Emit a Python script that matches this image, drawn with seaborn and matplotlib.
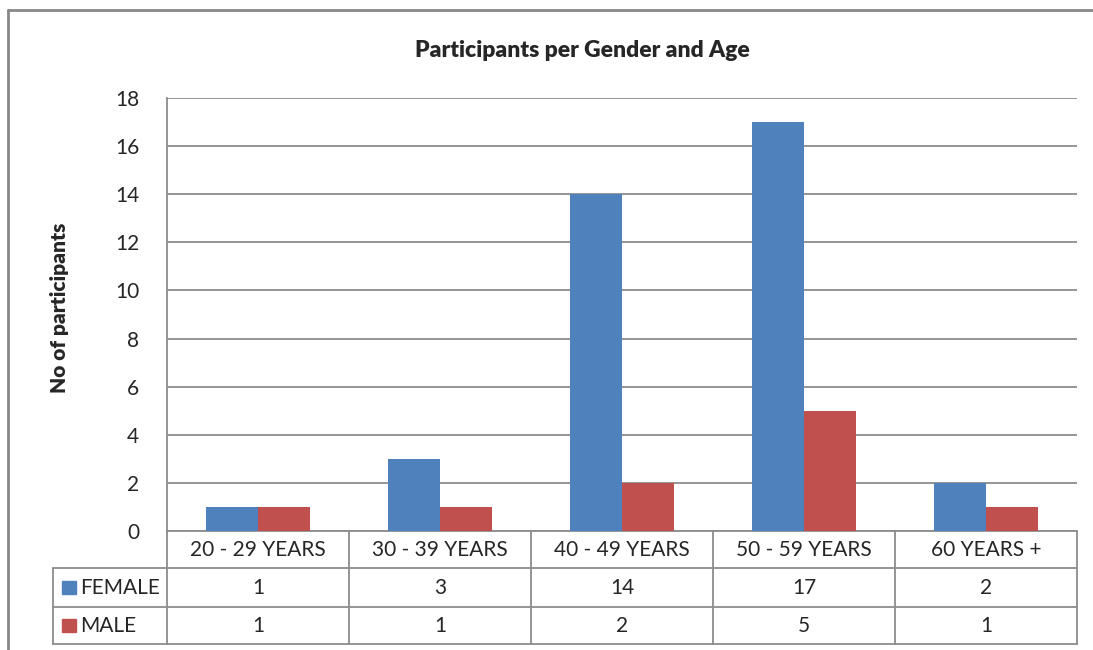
import pandas as pd
import seaborn as sns
import matplotlib.pyplot as plt
from matplotlib.lines import Line2D
from matplotlib.patches import Rectangle

# Data
age_groups = ['20 - 29 YEARS', '30 - 39 YEARS', '40 - 49 YEARS', '50 - 59 YEARS', '60 YEARS +']
female = [1, 3, 14, 17, 2]
male = [1, 1, 2, 5, 1]
series = ['FEMALE', 'MALE']
colors = {'FEMALE': '#4F81BD', 'MALE': '#C0504D'}

df = pd.DataFrame({'age': age_groups * 2,
                   'gender': ['FEMALE'] * len(female) + ['MALE'] * len(male),
                   'count': female + male})

sns.set_style('white')
plt.rcParams['font.family'] = ['Lato', 'DejaVu Sans']
grey = '#8c8c8c'
fs = 15

fig = plt.figure(figsize=(10.93, 6.5), dpi=100)
ax = fig.add_axes([167 / 1093, 1 - 531 / 650, 910 / 1093, 433 / 650])

sns.barplot(data=df, x='age', y='count', hue='gender', hue_order=series,
            palette=colors, width=0.571, gap=0, linewidth=0, saturation=1,
            legend=False, ax=ax, zorder=3)

ax.set_ylim(0, 18)
ax.set_yticks(range(0, 19, 2))
ax.set_xlim(-0.5, 4.5)
ax.set_xticks([])
ax.set_xlabel('')
ax.set_ylabel('')
ax.yaxis.grid(True, color=grey, linewidth=1.3, zorder=0)
ax.set_axisbelow(True)
for side in ['top', 'right', 'bottom']:
    ax.spines[side].set_visible(False)
ax.spines['left'].set_color(grey)
ax.spines['left'].set_linewidth(1.3)
ax.tick_params(axis='y', length=0, pad=20, labelsize=fs)

# Data table under the plot
tr = ax.get_xaxis_transform()
row_y = [0, -0.0855, -0.1755, -0.261]
left_x = -1.126
line_kw = dict(color=grey, linewidth=1.3, clip_on=False, transform=tr)
ax.plot([-0.5, 4.5], [row_y[0]] * 2, **line_kw)
for y in row_y[1:]:
    ax.plot([left_x, 4.5], [y, y], **line_kw)
for x in [-0.5, 0.5, 1.5, 2.5, 3.5, 4.5]:
    ax.plot([x, x], [0, row_y[-1]], **line_kw)
ax.plot([left_x, left_x], [row_y[1], row_y[-1]], **line_kw)

for i, label in enumerate(age_groups):
    ax.text(i, (row_y[0] + row_y[1]) / 2, label, transform=tr,
            ha='center', va='center', fontsize=fs)
for r, (name, vals) in enumerate(zip(series, [female, male])):
    yc = (row_y[r + 1] + row_y[r + 2]) / 2
    for i, v in enumerate(vals):
        ax.text(i, yc, str(v), transform=tr, ha='center', va='center', fontsize=fs)
    ax.add_patch(Rectangle((-1.077, yc - 0.016), 0.077, 0.032, transform=tr,
                           color=colors[name], clip_on=False))
    ax.text(-0.975, yc, name, transform=tr, ha='left', va='center', fontsize=fs)

# Titles
fig.text(0.533, 0.923, 'Participants per Gender and Age', ha='center', va='center',
         fontsize=16.5, fontweight='heavy')
fig.text(0.054, 0.527, 'No of participants', ha='center', va='center',
         rotation=90, fontsize=15, fontweight='heavy')

# Chart area frame (right and bottom run off the picture)
x0, y0 = 8 / 1093, 1 - 10 / 650
fig.add_artist(Line2D([x0, x0], [0, y0], transform=fig.transFigure, color='#888888', linewidth=2))
fig.add_artist(Line2D([x0, 1], [y0, y0], transform=fig.transFigure, color='#888888', linewidth=2))

fig.savefig('out.png', dpi=100)
